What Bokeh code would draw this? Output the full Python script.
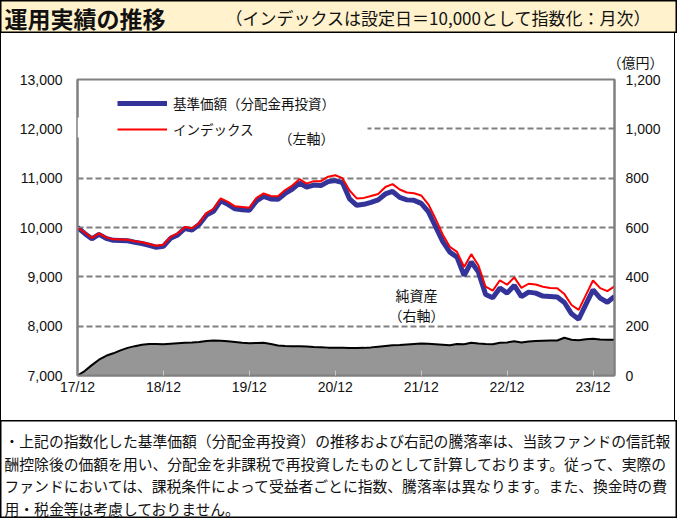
from bokeh.plotting import figure
from bokeh.layouts import column
from bokeh.models import (Range1d, LinearAxis, FixedTicker, NumeralTickFormatter, Legend,
                          LegendItem, Label, BoxAnnotation, ColumnDataSource, Grid)
from bokeh.embed import file_html
from bokeh.resources import INLINE

# ---------------- data (monthly, 2017/12 .. 2024/03) ----------------
fund = [10000, 9880, 9770, 9860, 9780, 9740, 9735, 9730, 9700, 9675,
        9640, 9600, 9620, 9780, 9850, 9980, 9950, 10060, 10250, 10330,
        10540, 10470, 10380, 10360, 10350, 10540, 10630, 10580, 10570, 10690,
        10780, 10900, 10820, 10860, 10850, 10930, 10950, 10910, 10580, 10450,
        10470, 10510, 10560, 10680, 10730, 10610, 10560, 10550, 10490, 10320,
        10020, 9720, 9500, 9400, 9025, 9300, 9095, 8640, 8575, 8775,
        8670, 8825, 8600, 8690, 8670, 8610, 8600, 8590, 8480, 8250,
        8140, 8440, 8735, 8570, 8485, 8600]
index_vals = [10000, 9900, 9790, 9880, 9800, 9760, 9755, 9750, 9720, 9700,
              9665, 9630, 9650, 9810, 9880, 10010, 9985, 10090, 10290, 10380,
              10590, 10520, 10430, 10415, 10400, 10600, 10690, 10640, 10635, 10760,
              10850, 10980, 10890, 10940, 10940, 11030, 11060, 11000, 10750, 10590,
              10600, 10640, 10680, 10820, 10880, 10770, 10710, 10695, 10650, 10470,
              10180, 9860, 9610, 9505, 9200, 9460, 9230, 8800, 8720, 8930,
              8840, 8990, 8775, 8860, 8845, 8800, 8775, 8770, 8650, 8430,
              8330, 8630, 8925, 8770, 8710, 8805]
net_assets = [0, 18, 42, 64, 80, 90, 102, 112, 119, 125,
              128, 128, 127, 129, 131, 133, 134, 136, 140, 142,
              141, 139, 136, 133, 131, 132, 133, 128, 122, 120,
              119, 119, 118, 116, 115, 113, 113, 112, 111, 111,
              112, 114, 117, 120, 123, 124, 126, 128, 130, 129,
              127, 125, 123, 128, 127, 133, 130, 128, 127, 133,
              134, 139, 134, 138, 140, 141, 142, 142, 153, 145,
              143, 147, 149, 146, 145, 145]
year_labels = ["17/12", "18/12", "19/12", "20/12", "21/12", "22/12", "23/12"]
left_ticks = [7000, 8000, 9000, 10000, 11000, 12000, 13000]
right_ticks = [0, 200, 400, 600, 800, 1000, 1200]

title_text = "運用実績の推移"
subtitle_text = "（インデックスは設定日＝10,000として指数化：月次）"
legend_labels = ["基準価額（分配金再投資）", "インデックス"]
unit_text = "（億円）"
notes = [
    "・上記の指数化した基準価額（分配金再投資）の推移および右記の騰落率は、当該ファンドの信託報",
    "酬控除後の価額を用い、分配金を非課税で再投資したものとして計算しております。従って、実際の",
    "ファンドにおいては、課税条件によって受益者ごとに指数、騰落率は異なります。また、換金時の費",
    "用・税金等は考慮しておりません。",
]

JP = "Noto Sans CJK JP"
NUM = "Liberation Sans"
GRAY = "#808080"
TXT = "#111111"


def label(fig, text, sx, sy, size, align="left", bold=False):
    fig.add_layout(Label(x=sx, y=sy, x_units="screen", y_units="screen", text=text,
                         text_font=JP, text_font_size=size, text_align=align,
                         text_baseline="middle", text_color=TXT,
                         text_font_style="bold" if bold else "normal"))


def box_figure(w, h, fill):
    f = figure(width=w, height=h, output_backend="svg", toolbar_location=None,
               x_axis_type=None, y_axis_type=None, min_border=0, frame_align=False,
               x_range=Range1d(0, 1), y_range=Range1d(0, 1),
               background_fill_color=fill, border_fill_color=fill,
               outline_line_color="black", outline_line_width=2)
    return f


# ---------------- title band ----------------
TW, TH = 677, 33
ft = box_figure(TW, TH, "#FFF2CC")
label(ft, title_text, 4, TH - 17, "23px", bold=True)
label(ft, subtitle_text, 651, TH - 17, "17px", align="right")

# ---------------- main chart ----------------
W, H = 675, 387
FL, FR, FT, FB = 76, 613, 46, 342

x = list(range(len(fund)))
src = ColumnDataSource(dict(x=x, fund=fund, idx=index_vals, assets=net_assets))

p = figure(width=W, height=H, output_backend="svg", toolbar_location=None,
           x_range=Range1d(0, len(fund) - 1), y_range=Range1d(left_ticks[0], left_ticks[-1]),
           x_axis_type=None, y_axis_type=None, frame_align=False,
           min_border_left=FL, min_border_right=W - FR, min_border_top=FT,
           min_border_bottom=H - FB, background_fill_color="white",
           border_fill_color="white", outline_line_color=GRAY, outline_line_width=2)
p.styles = {"border-left": "1px solid black", "border-right": "1px solid black"}
p.extra_y_ranges = {"right": Range1d(right_ticks[0], right_ticks[-1])}

p.title.text = unit_text
p.title.align = "right"
p.title.offset = -49
p.title.standoff = 15
p.title.text_font = JP
p.title.text_font_size = "14px"
p.title.text_font_style = "normal"
p.title.text_color = TXT

grid = Grid(dimension=1, ticker=FixedTicker(ticks=left_ticks[1:-1]),
            grid_line_color=GRAY, grid_line_width=2, grid_line_dash="6 3")
p.add_layout(grid)

xaxis = LinearAxis(ticker=FixedTicker(ticks=[12 * i for i in range(len(year_labels))]),
                   major_label_overrides={12 * i: t for i, t in enumerate(year_labels)})
yaxis = LinearAxis(ticker=FixedTicker(ticks=left_ticks),
                   formatter=NumeralTickFormatter(format="0,0"))
raxis = LinearAxis(y_range_name="right", ticker=FixedTicker(ticks=right_ticks),
                   formatter=NumeralTickFormatter(format="0,0"))
for ax in (xaxis, yaxis, raxis):
    ax.axis_line_color = GRAY
    ax.axis_line_width = 2
    ax.major_tick_in = 5
    ax.major_tick_out = 0
    ax.major_tick_line_color = GRAY
    ax.major_tick_line_width = 1
    ax.minor_tick_line_color = None
    ax.major_label_text_font = NUM
    ax.major_label_text_font_size = "14px"
    ax.major_label_text_color = TXT
xaxis.major_tick_line_color = "#C8C8C8"
xaxis.major_label_standoff = 3
yaxis.major_label_standoff = 15
raxis.major_label_standoff = 11
p.add_layout(xaxis, "below")
p.add_layout(yaxis, "left")
p.add_layout(raxis, "right")

p.varea(x="x", y1=0, y2="assets", source=src, y_range_name="right",
        fill_color="#969696", fill_alpha=1)
p.line("x", "assets", source=src, y_range_name="right", line_color="black", line_width=2)
r_fund = p.line("x", "fund", source=src, line_color="#333399", line_width=5)
r_idx = p.line("x", "idx", source=src, line_color="#FF0000", line_width=2)

# white area behind the legend block (hides the grid line there)
mask = BoxAnnotation(left=0, right=290, bottom=238, top=258,
                     left_units="screen", right_units="screen", top_units="screen",
                     bottom_units="screen", fill_color="white", fill_alpha=1, line_color=None)
p.add_layout(mask)

legend = Legend(items=[LegendItem(label=legend_labels[0], renderers=[r_fund]),
                       LegendItem(label=legend_labels[1], renderers=[r_idx])],
                location=(40, 236), padding=6, spacing=6, margin=0,
                glyph_width=50, glyph_height=20, label_height=20,
                label_standoff=6, label_text_font=JP, label_text_font_size="13.5px",
                label_text_color=TXT, background_fill_alpha=0, border_line_color=None)
p.add_layout(legend)


def plabel(text, fx, fy, size, align="left"):
    label(p, text, fx - FL, FB - fy, size, align=align)


plabel("（左軸）", 277, 104, "14px")
plabel("純資産", 415, 261, "14px", align="center")
plabel("（右軸）", 415, 281, "14px", align="center")

# ---------------- footnote ----------------
NW, NH = 677, 98
fn = box_figure(NW, NH, "white")
for i, t in enumerate(notes):
    label(fn, t, 4, NH - (20 + 22.7 * i), "14.8px")

layout = column(ft, p, fn, spacing=0)
open("out.html", "w").write(file_html(layout, INLINE))
